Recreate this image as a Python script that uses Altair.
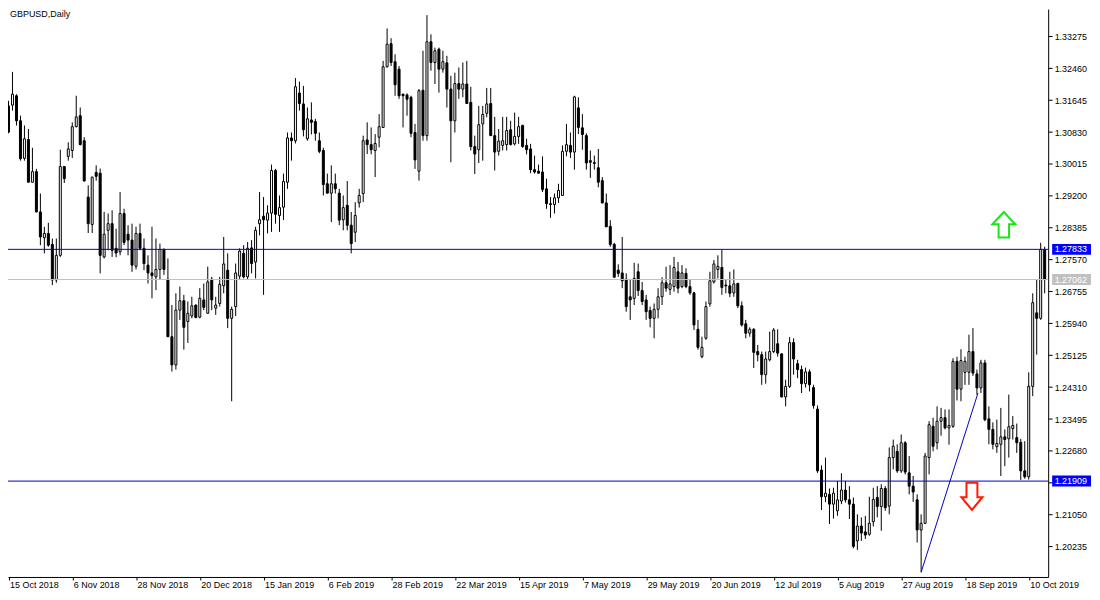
import altair as alt
import pandas as pd

# ---------------- data ----------------
opens = [
    1.3150, 1.3152, 1.3176, 1.3112, 1.3016, 1.3064, 1.2955, 1.2982, 1.2879, 1.2813,
    1.2824, 1.2796, 1.2705, 1.2768, 1.2995, 1.3021, 1.3036, 1.3097, 1.3125, 1.3061,
    1.2917, 1.2847, 1.2980, 1.2978, 1.2764, 1.2832, 1.2849, 1.2786, 1.2777, 1.2875,
    1.2822, 1.2807, 1.2740, 1.2824, 1.2786, 1.2743, 1.2723, 1.2713, 1.2732, 1.2783,
    1.2707, 1.2560, 1.2488, 1.2628, 1.2652, 1.2599, 1.2613, 1.2641, 1.2610, 1.2654,
    1.2620, 1.2707, 1.2633, 1.2645, 1.2690, 1.2730, 1.2607, 1.2637, 1.2715, 1.2773,
    1.2713, 1.2787, 1.2751, 1.2849, 1.2868, 1.2858, 1.2876, 1.2985, 1.2870, 1.2891,
    1.2955, 1.3068, 1.3061, 1.3183, 1.3155, 1.3066, 1.3114, 1.3110, 1.3061, 1.3036,
    1.2951, 1.2927, 1.2951, 1.2927, 1.2859, 1.2896, 1.2845, 1.2827, 1.2902, 1.2926,
    1.3063, 1.3051, 1.3036, 1.3070, 1.3095, 1.3250, 1.3309, 1.3263, 1.3244, 1.3180,
    1.3178, 1.3172, 1.3082, 1.2983, 1.3190, 1.3074, 1.3314, 1.3261, 1.3295, 1.3244,
    1.3260, 1.3193, 1.3112, 1.3207, 1.3193, 1.3206, 1.3159, 1.3046, 1.3038, 1.3104,
    1.3131, 1.3156, 1.3074, 1.3034, 1.3049, 1.3051, 1.3089, 1.3053, 1.3072, 1.3100,
    1.3049, 1.3040, 1.2987, 1.2983, 1.2981, 1.2938, 1.2900, 1.2898, 1.2915, 1.2921,
    1.3034, 1.3049, 1.3032, 1.3145, 1.3094, 1.3074, 1.3010, 1.3005, 1.2992, 1.2959,
    1.2902, 1.2842, 1.2796, 1.2730, 1.2723, 1.2707, 1.2662, 1.2658, 1.2726, 1.2678,
    1.2654, 1.2627, 1.2607, 1.2630, 1.2662, 1.2698, 1.2681, 1.2688, 1.2726, 1.2688,
    1.2722, 1.2688, 1.2672, 1.2579, 1.2509, 1.2556, 1.2644, 1.2700, 1.2732, 1.2737,
    1.2692, 1.2690, 1.2672, 1.2696, 1.2639, 1.2593, 1.2569, 1.2579, 1.2522, 1.2514,
    1.2463, 1.2501, 1.2522, 1.2542, 1.2516, 1.2406, 1.2433, 1.2545, 1.2491, 1.2476,
    1.2440, 1.2470, 1.2430, 1.2375, 1.2219, 1.2151, 1.2157, 1.2132, 1.2115, 1.2140,
    1.2168, 1.2143, 1.2132, 1.2038, 1.2076, 1.2061, 1.2055, 1.2087, 1.2149, 1.2126,
    1.2172, 1.2127, 1.2251, 1.2267, 1.2217, 1.2289, 1.2212, 1.2178, 1.2143, 1.2066,
    1.2083, 1.2251, 1.2331, 1.2289, 1.2344, 1.2353, 1.2327, 1.2331, 1.2497, 1.2426,
    1.2469, 1.2469, 1.2522, 1.2465, 1.2429, 1.2493, 1.2350, 1.2323, 1.2279, 1.2285,
    1.2304, 1.2299, 1.2325, 1.2302, 1.2290, 1.2217, 1.2202, 1.2433, 1.2621, 1.2607,
    1.2783,
]
highs = [
    1.3163, 1.3237, 1.3180, 1.3125, 1.3100, 1.3091, 1.3043, 1.2989, 1.2926, 1.2841,
    1.2851, 1.2811, 1.2811, 1.3038, 1.2996, 1.3057, 1.3108, 1.3176, 1.3146, 1.3070,
    1.2947, 1.2969, 1.2998, 1.2990, 1.2879, 1.2875, 1.2883, 1.2836, 1.2930, 1.2887,
    1.2845, 1.2849, 1.2841, 1.2849, 1.2811, 1.2768, 1.2841, 1.2811, 1.2798, 1.2786,
    1.2760, 1.2641, 1.2671, 1.2688, 1.2667, 1.2650, 1.2662, 1.2642, 1.2684, 1.2696,
    1.2739, 1.2713, 1.2662, 1.2713, 1.2815, 1.2773, 1.2637, 1.2747, 1.2786, 1.2794,
    1.2802, 1.2807, 1.2841, 1.2930, 1.2917, 1.2896, 1.3000, 1.2989, 1.2921, 1.2977,
    1.3082, 1.3082, 1.3221, 1.3212, 1.3201, 1.3146, 1.3159, 1.3117, 1.3082, 1.3043,
    1.2977, 1.2998, 1.2977, 1.2938, 1.2921, 1.2958, 1.2879, 1.2904, 1.2938, 1.3074,
    1.3108, 1.3095, 1.3078, 1.3129, 1.3265, 1.3348, 1.3323, 1.3282, 1.3252, 1.3181,
    1.3182, 1.3176, 1.3104, 1.3193, 1.3291, 1.3382, 1.3333, 1.3299, 1.3299, 1.3291,
    1.3278, 1.3227, 1.3235, 1.3248, 1.3261, 1.3265, 1.3199, 1.3074, 1.3150, 1.3150,
    1.3196, 1.3196, 1.3122, 1.3091, 1.3122, 1.3122, 1.3112, 1.3133, 1.3122, 1.3102,
    1.3066, 1.3053, 1.3023, 1.3000, 1.3021, 1.2964, 1.2917, 1.2926, 1.2951, 1.3049,
    1.3104, 1.3082, 1.3176, 1.3172, 1.3129, 1.3080, 1.3036, 1.3023, 1.3040, 1.2968,
    1.2926, 1.2858, 1.2800, 1.2745, 1.2815, 1.2722, 1.2705, 1.2749, 1.2747, 1.2700,
    1.2667, 1.2637, 1.2645, 1.2684, 1.2712, 1.2739, 1.2743, 1.2764, 1.2751, 1.2743,
    1.2735, 1.2705, 1.2675, 1.2603, 1.2560, 1.2650, 1.2726, 1.2756, 1.2768, 1.2783,
    1.2707, 1.2726, 1.2732, 1.2698, 1.2650, 1.2603, 1.2584, 1.2582, 1.2539, 1.2522,
    1.2522, 1.2573, 1.2582, 1.2579, 1.2518, 1.2450, 1.2559, 1.2556, 1.2501, 1.2486,
    1.2481, 1.2476, 1.2437, 1.2384, 1.2231, 1.2251, 1.2172, 1.2174, 1.2191, 1.2211,
    1.2191, 1.2178, 1.2149, 1.2106, 1.2098, 1.2102, 1.2151, 1.2174, 1.2178, 1.2183,
    1.2178, 1.2277, 1.2297, 1.2285, 1.2310, 1.2293, 1.2255, 1.2204, 1.2157, 1.2106,
    1.2263, 1.2344, 1.2353, 1.2382, 1.2378, 1.2374, 1.2374, 1.2505, 1.2509, 1.2528,
    1.2509, 1.2565, 1.2582, 1.2476, 1.2501, 1.2501, 1.2382, 1.2341, 1.2348, 1.2378,
    1.2323, 1.2412, 1.2357, 1.2338, 1.2299, 1.2293, 1.2469, 1.2671, 1.2705, 1.2800,
    1.2790,
]
lows = [
    1.3080, 1.3138, 1.3100, 1.3010, 1.3010, 1.2954, 1.2954, 1.2878, 1.2794, 1.2773,
    1.2790, 1.2692, 1.2698, 1.2764, 1.2953, 1.3010, 1.3017, 1.3095, 1.3049, 1.2957,
    1.2825, 1.2825, 1.2959, 1.2722, 1.2760, 1.2781, 1.2764, 1.2763, 1.2768, 1.2794,
    1.2768, 1.2726, 1.2732, 1.2781, 1.2730, 1.2696, 1.2658, 1.2679, 1.2705, 1.2718,
    1.2559, 1.2471, 1.2476, 1.2603, 1.2527, 1.2544, 1.2607, 1.2607, 1.2607, 1.2628,
    1.2619, 1.2628, 1.2616, 1.2637, 1.2671, 1.2582, 1.2395, 1.2613, 1.2705, 1.2709,
    1.2707, 1.2722, 1.2709, 1.2819, 1.2667, 1.2824, 1.2828, 1.2849, 1.2828, 1.2858,
    1.2938, 1.3010, 1.3054, 1.3138, 1.3072, 1.3061, 1.3077, 1.3061, 1.3029, 1.2921,
    1.2926, 1.2853, 1.2926, 1.2845, 1.2832, 1.2832, 1.2773, 1.2802, 1.2890, 1.2904,
    1.3027, 1.3026, 1.2968, 1.3044, 1.3094, 1.3248, 1.3252, 1.3176, 1.3168, 1.3095,
    1.3125, 1.3070, 1.2989, 1.2959, 1.3061, 1.3061, 1.3240, 1.3206, 1.3184, 1.3235,
    1.3146, 1.3006, 1.3082, 1.3168, 1.3172, 1.3155, 1.3036, 1.2976, 1.3004, 1.3010,
    1.3121, 1.3073, 1.2985, 1.3023, 1.3036, 1.3036, 1.3049, 1.3049, 1.3053, 1.3043,
    1.3026, 1.2978, 1.2977, 1.2977, 1.2930, 1.2887, 1.2864, 1.2875, 1.2902, 1.2920,
    1.3021, 1.3017, 1.2987, 1.3078, 1.3038, 1.2987, 1.2966, 1.2987, 1.2942, 1.2901,
    1.2840, 1.2790, 1.2711, 1.2713, 1.2684, 1.2624, 1.2603, 1.2641, 1.2664, 1.2641,
    1.2603, 1.2584, 1.2556, 1.2607, 1.2641, 1.2675, 1.2667, 1.2675, 1.2671, 1.2684,
    1.2684, 1.2667, 1.2577, 1.2527, 1.2505, 1.2552, 1.2637, 1.2696, 1.2709, 1.2667,
    1.2671, 1.2661, 1.2662, 1.2633, 1.2586, 1.2556, 1.2560, 1.2480, 1.2497, 1.2437,
    1.2440, 1.2497, 1.2518, 1.2509, 1.2405, 1.2382, 1.2429, 1.2463, 1.2454, 1.2416,
    1.2430, 1.2420, 1.2376, 1.2212, 1.2117, 1.2137, 1.2081, 1.2095, 1.2102, 1.2132,
    1.2136, 1.2094, 1.2019, 1.2015, 1.2038, 1.2043, 1.2051, 1.2075, 1.2098, 1.2064,
    1.2115, 1.2106, 1.2221, 1.2212, 1.2212, 1.2208, 1.2157, 1.2138, 1.2034, 1.1958,
    1.2081, 1.2208, 1.2267, 1.2272, 1.2307, 1.2323, 1.2284, 1.2327, 1.2397, 1.2395,
    1.2437, 1.2437, 1.2460, 1.2412, 1.2416, 1.2344, 1.2285, 1.2272, 1.2263, 1.2204,
    1.2229, 1.2251, 1.2297, 1.2263, 1.2194, 1.2197, 1.2195, 1.2408, 1.2514, 1.2603,
    1.2671,
]
closes = [
    1.3083, 1.3180, 1.3112, 1.3015, 1.3066, 1.2955, 1.2982, 1.2879, 1.2815, 1.2824,
    1.2794, 1.2705, 1.2768, 1.2995, 1.2964, 1.3040, 1.3097, 1.3122, 1.3051, 1.2958,
    1.2849, 1.2968, 1.2970, 1.2768, 1.2822, 1.2849, 1.2781, 1.2774, 1.2875, 1.2801,
    1.2807, 1.2743, 1.2824, 1.2786, 1.2747, 1.2723, 1.2716, 1.2732, 1.2783, 1.2732,
    1.2560, 1.2488, 1.2628, 1.2652, 1.2584, 1.2620, 1.2639, 1.2609, 1.2658, 1.2635,
    1.2700, 1.2654, 1.2641, 1.2694, 1.2746, 1.2607, 1.2630, 1.2723, 1.2779, 1.2713,
    1.2786, 1.2747, 1.2832, 1.2859, 1.2859, 1.2876, 1.2985, 1.2873, 1.2890, 1.2957,
    1.3068, 1.3061, 1.3199, 1.3156, 1.3089, 1.3117, 1.3108, 1.3080, 1.3034, 1.2949,
    1.2927, 1.2951, 1.2938, 1.2858, 1.2890, 1.2845, 1.2798, 1.2870, 1.2921, 1.3061,
    1.3051, 1.3038, 1.3054, 1.3097, 1.3250, 1.3308, 1.3261, 1.3204, 1.3176, 1.3176,
    1.3167, 1.3080, 1.3012, 1.3189, 1.3074, 1.3314, 1.3261, 1.3291, 1.3244, 1.3263,
    1.3193, 1.3112, 1.3207, 1.3193, 1.3206, 1.3156, 1.3046, 1.3027, 1.3102, 1.3128,
    1.3155, 1.3074, 1.3032, 1.3060, 1.3061, 1.3087, 1.3051, 1.3072, 1.3097, 1.3046,
    1.3038, 1.2987, 1.2981, 1.2978, 1.2936, 1.2900, 1.2898, 1.2915, 1.2934, 1.3034,
    1.3051, 1.3032, 1.3173, 1.3095, 1.3077, 1.3004, 1.3006, 1.3003, 1.2955, 1.2902,
    1.2841, 1.2796, 1.2712, 1.2722, 1.2703, 1.2637, 1.2654, 1.2709, 1.2678, 1.2650,
    1.2624, 1.2607, 1.2630, 1.2662, 1.2698, 1.2684, 1.2695, 1.2737, 1.2684, 1.2723,
    1.2688, 1.2672, 1.2590, 1.2533, 1.2533, 1.2637, 1.2703, 1.2746, 1.2740, 1.2686,
    1.2690, 1.2671, 1.2695, 1.2639, 1.2590, 1.2569, 1.2579, 1.2520, 1.2514, 1.2463,
    1.2503, 1.2522, 1.2577, 1.2518, 1.2406, 1.2433, 1.2545, 1.2503, 1.2476, 1.2440,
    1.2470, 1.2437, 1.2384, 1.2217, 1.2151, 1.2160, 1.2132, 1.2160, 1.2143, 1.2168,
    1.2143, 1.2132, 1.2024, 1.2076, 1.2058, 1.2053, 1.2083, 1.2144, 1.2126, 1.2172,
    1.2123, 1.2251, 1.2280, 1.2217, 1.2289, 1.2214, 1.2178, 1.2163, 1.2066, 1.2083,
    1.2255, 1.2335, 1.2280, 1.2344, 1.2353, 1.2327, 1.2333, 1.2497, 1.2426, 1.2499,
    1.2497, 1.2522, 1.2467, 1.2429, 1.2493, 1.2348, 1.2323, 1.2285, 1.2287, 1.2304,
    1.2297, 1.2330, 1.2333, 1.2289, 1.2217, 1.2202, 1.2433, 1.2647, 1.2607, 1.2783,
    1.2706,
]
assert len(opens) == len(highs) == len(lows) == len(closes) == 261

date_ticks = [0, 16, 32, 48, 64, 80, 96, 112, 128, 144, 160, 176, 192, 208, 224, 240, 256]
date_labels = ["15 Oct 2018", "6 Nov 2018", "28 Nov 2018", "20 Dec 2018", "15 Jan 2019",
               "6 Feb 2019", "28 Feb 2019", "22 Mar 2019", "15 Apr 2019", "7 May 2019",
               "29 May 2019", "20 Jun 2019", "12 Jul 2019", "5 Aug 2019", "27 Aug 2019",
               "18 Sep 2019", "10 Oct 2019"]
price_ticks = [1.20235, 1.21050, 1.21865, 1.22680, 1.23495, 1.24310, 1.25125, 1.25940,
               1.26755, 1.27570, 1.28385, 1.29200, 1.30015, 1.30830, 1.31645, 1.32460,
               1.33275, 1.34090]

level_prices = [1.27833, 1.21909]
level_labels = ["1.27833", "1.21909"]
bid_prices = [1.27062]
bid_labels = ["1.27062"]
trend_idx = [229, 243.25]
trend_prices = [1.19578, 1.24157]
up_arrow_idx, up_arrow_price = [249.75], [1.28461]
down_arrow_idx, down_arrow_price = [241.75], [1.21521]
chart_title = "GBPUSD,Daily"

# ---------------- styling ----------------
FONT = "Liberation Sans"
W, H = 1044, 570
LINE_BLUE = "#0000c8"
TAG_BLUE = "#0000ff"
BID_GRAY = "#c0c0c0"

candles = pd.DataFrame({"idx": list(range(len(opens))), "open": opens,
                        "high": highs, "low": lows, "close": closes})

xs = alt.Scale(domain=[-0.125, 260.875], nice=False, zero=False, padding=0)
ys = alt.Scale(domain=[1.194579, 1.339753], nice=False, zero=False, padding=0)

label_expr = ("[" + ",".join("'%s'" % s for s in date_labels) + "][indexof(["
              + ",".join(str(t) for t in date_ticks) + "], datum.value)]")

x_axis = alt.Axis(values=date_ticks, tickCount=len(date_ticks) + 5, labelExpr=label_expr,
                  orient="bottom", title=None,
                  grid=False, domainColor="black", domainWidth=1, tickColor="black",
                  tickSize=3, labelAlign="left", labelBaseline="top", labelPadding=1,
                  labelOffset=1, labelFont=FONT, labelFontSize=9, labelColor="black",
                  labelOverlap=False, labelFlush=False)
y_axis = alt.Axis(values=price_ticks, tickCount=len(price_ticks) + 5, format=".5f",
                  orient="right", title=None, grid=False,
                  domainColor="black", domainWidth=1, tickColor="black", tickSize=4,
                  labelPadding=2, labelFont=FONT, labelFontSize=9, labelColor="black",
                  labelOverlap=False, labelFlush=False)

X = lambda f: alt.X(f, scale=xs, title=None)
Y = lambda f: alt.Y(f, scale=ys, title=None)

wicks = alt.Chart(candles).mark_rule(color="black", strokeWidth=1).encode(
    x=alt.X("idx:Q", scale=xs, axis=x_axis, title=None),
    y=alt.Y("low:Q", scale=ys, axis=y_axis, title=None),
    y2="high:Q",
)
bodies = alt.Chart(candles).mark_bar(width=2, stroke="black", strokeWidth=1).encode(
    x=X("idx:Q"), y=Y("open:Q"), y2="close:Q",
    fill=alt.condition("datum.close > datum.open", alt.value("white"), alt.value("black")),
)

levels = pd.DataFrame({"price": level_prices, "label": level_labels})
bids = pd.DataFrame({"price": bid_prices, "label": bid_labels})

level_rules = alt.Chart(levels).mark_rule(color=LINE_BLUE, strokeWidth=1).encode(y=Y("price:Q"))
bid_rule = alt.Chart(bids).mark_rule(color=BID_GRAY, strokeWidth=1).encode(y=Y("price:Q"))

trend = pd.DataFrame({"idx": trend_idx, "price": trend_prices})
trend_line = alt.Chart(trend).mark_line(color=LINE_BLUE, strokeWidth=1).encode(
    x=X("idx:Q"), y=Y("price:Q"))

UP_PATH = "M-0.41,1L0.41,1L0.41,-0.04L0.9,-0.04L0,-1L-0.9,-0.04L-0.41,-0.04Z"
DOWN_PATH = "M-0.4,-1L0.4,-1L0.4,0.07L0.77,0.07L0,1L-0.77,0.07L-0.4,0.07Z"
up_arrow = alt.Chart(pd.DataFrame({"idx": up_arrow_idx, "price": up_arrow_price})).mark_point(
    shape=UP_PATH, size=655, filled=True, fill="white", stroke="#19e619", strokeWidth=2,
    opacity=1, fillOpacity=1, strokeOpacity=1).encode(x=X("idx:Q"), y=Y("price:Q"))
down_arrow = alt.Chart(pd.DataFrame({"idx": down_arrow_idx, "price": down_arrow_price})).mark_point(
    shape=DOWN_PATH, size=750, filled=True, fill="white", stroke="#ff1a00", strokeWidth=2,
    opacity=1, fillOpacity=1, strokeOpacity=1).encode(x=X("idx:Q"), y=Y("price:Q"))

BOX_PATH = "M-1,-0.282L1,-0.282L1,0.282L-1,0.282Z"
BOX_X = 1067.5
TEXT_X = 1050.5
level_boxes = alt.Chart(levels).mark_point(shape=BOX_PATH, size=1521, filled=True,
                                           color=TAG_BLUE, opacity=1).encode(
    x=alt.value(BOX_X), y=Y("price:Q"))
bid_boxes = alt.Chart(bids).mark_point(shape=BOX_PATH, size=1521, filled=True,
                                       color=BID_GRAY, opacity=1).encode(
    x=alt.value(BOX_X), y=Y("price:Q"))
tag_text = alt.Chart(pd.concat([levels, bids])).mark_text(
    align="left", baseline="middle", font=FONT, fontSize=9, color="white").encode(
    x=alt.value(TEXT_X), y=Y("price:Q"), text="label:N")

title_text = alt.Chart(pd.DataFrame({"t": [chart_title]})).mark_text(
    align="left", baseline="top", font=FONT, fontSize=9, color="black").encode(
    x=alt.value(2), y=alt.value(1), text="t:N")

chart = alt.layer(
    wicks, bodies, bid_rule, level_rules, trend_line, up_arrow, down_arrow,
    level_boxes, bid_boxes, tag_text, title_text,
).properties(
    width=W, height=H,
    autosize=alt.AutoSizeParams(type="none"),
    padding={"left": 0, "top": 0, "right": 44, "bottom": 16},
    background="white",
).configure_view(strokeWidth=0)

chart.save("out.html", embed_options={"renderer": "svg", "actions": False})
